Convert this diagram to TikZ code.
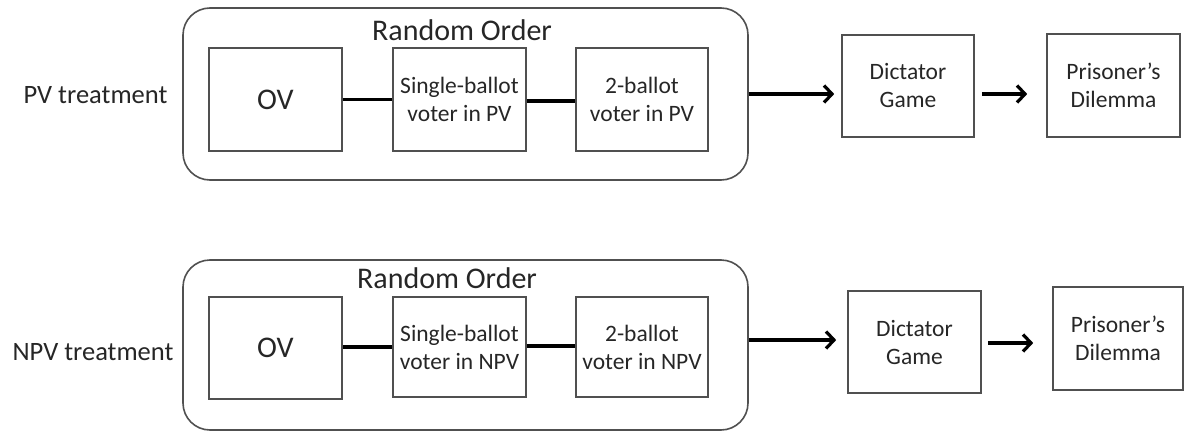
\documentclass[tikz,border=0pt]{standalone}
\usepackage{fontspec}
\setmainfont{Carlito}
\usetikzlibrary{arrows.meta}
\definecolor{txt}{HTML}{262626}
\definecolor{edge}{HTML}{505050}
\begin{document}
\begin{tikzpicture}[x=1pt,y=-1pt,
  box/.style={draw=edge,line width=1.6pt,inner sep=0pt,align=center,text=txt,
     font=\fontsize{23.5}{28}\selectfont},
  grp/.style={draw=edge,line width=1.6pt,rounded corners=27pt,inner sep=0pt,minimum width=565pt},
  lbl/.style={text=txt,inner sep=0pt},
  link/.style={line width=3.2pt,black},
  arr/.style={line width=3.2pt,black,-{Straight Barb[length=8pt,width=17pt]}}]
\useasboundingbox (0,0) rectangle (1184,431);
% ---------- PV treatment ----------
\node[grp,minimum height=172pt] (G1) at (465.5,94) {};
\node[lbl,font=\fontsize{30}{36}\selectfont] (R1) at (462,30) {Random Order};
\node[lbl,font=\fontsize{26.5}{32}\selectfont] (L1) at (95.5,95) {PV treatment};
\node[box,minimum width=133pt,minimum height=103pt,font=\fontsize{30}{36}\selectfont] (OV1) at (275.5,99.5) {OV};
\node[box,minimum width=133pt,minimum height=103pt] (S1) at (459.5,99.5) {Single-ballot\\voter in PV};
\node[box,minimum width=132pt,minimum height=103pt] (T1) at (642,99.5) {2-ballot\\voter in PV};
\node[box,minimum width=132pt,minimum height=102pt] (D1) at (908,86) {Dictator\\Game};
\node[box,minimum width=133pt,minimum height=103pt] (P1) at (1113.5,85.5) {Prisoner’s\\Dilemma};
\draw[link] (OV1.east) -- (S1.west);
\draw[link] ([yshift=-1.5pt]S1.east) -- ([yshift=-1.5pt]T1.west);
\coordinate (a1s) at (G1.east);
\coordinate (a1e) at ([xshift=-7pt]D1.west |- G1.east);
\coordinate (a2s) at ([xshift=7pt]D1.east |- G1.east);
\coordinate (a2e) at ([xshift=-19pt]P1.west |- G1.east);
\draw[arr] (a1s) -- (a1e);
\draw[arr] (a2s) -- (a2e);
% ---------- NPV treatment ----------
\node[grp,minimum height=170pt] (G2) at (465.5,345) {};
\node[lbl,font=\fontsize{30}{36}\selectfont] (R2) at (447,278) {Random Order};
\node[lbl,font=\fontsize{26.5}{32}\selectfont] (L2) at (93,352) {NPV treatment};
\node[box,minimum width=133pt,minimum height=102pt,font=\fontsize{30}{36}\selectfont] (OV2) at (275.5,348) {OV};
\node[box,minimum width=133pt,minimum height=100pt] (S2) at (459.5,347) {Single-ballot\\voter in NPV};
\node[box,minimum width=132pt,minimum height=100pt] (T2) at (642,347) {2-ballot\\voter in NPV};
\node[box,minimum width=133pt,minimum height=102pt] (D2) at (914.5,342) {Dictator\\Game};
\node[box,minimum width=130pt,minimum height=103pt] (P2) at (1118,338.5) {Prisoner’s\\Dilemma};
\draw[link] ([yshift=1pt]OV2.east) -- ([yshift=1pt]OV2.east -| S2.west);
\draw[link] ([yshift=1pt]S2.east) -- ([yshift=1pt]T2.west);
\coordinate (b1s) at ([yshift=5pt]G2.east);
\coordinate (b1e) at ([xshift=-11pt]D2.west |- b1s);
\coordinate (b2s) at ([xshift=6pt,yshift=2pt]D2.east |- G2.east);
\coordinate (b2e) at ([xshift=-19pt]P2.west |- b2s);
\draw[arr] (b1s) -- (b1e);
\draw[arr] (b2s) -- (b2e);
\end{tikzpicture}
\end{document}
